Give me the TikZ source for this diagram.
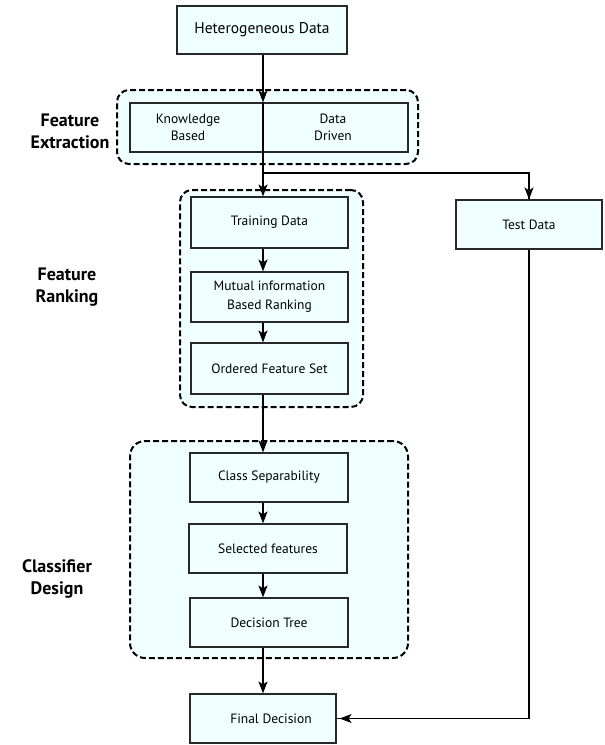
\documentclass[tikz,border=0pt]{standalone}
\usepackage{fontspec}
\setmainfont{PT Sans}
\usetikzlibrary{arrows.meta}
\definecolor{boxfill}{RGB}{240,255,255}
\definecolor{boxline}{RGB}{40,40,40}
\tikzset{
  stepbox/.style={draw=boxline, line width=1.2pt, fill=boxfill, inner sep=0pt, align=center, font=\fontsize{13.5}{19}\selectfont},
  group/.style={draw=black, line width=2pt, dash pattern=on 6pt off 3pt, fill=boxfill, rounded corners=12pt},
  arr/.style={draw=black, line width=1.5pt, -{Stealth[length=12pt,width=9pt,inset=3pt]}},
  plain/.style={draw=black, line width=1.2pt},
  lbl/.style={font=\bfseries\fontsize{18}{22}\selectfont, align=center},
}
\begin{document}
\begin{tikzpicture}[x=1pt,y=-1pt]
\useasboundingbox (0,0) rectangle (605,745);
% groups
\node[group, minimum width=301pt, minimum height=74pt] (g1) at (267.5,127) {};
\node[group, minimum width=183pt, minimum height=217pt] (g2) at (271.5,298.5) {};
\node[group, minimum width=278pt, minimum height=217pt, rounded corners=15pt] (g3) at (269,549.5) {};
% boxes
\node[stepbox, minimum width=170pt, minimum height=48pt, font=\fontsize{15.5}{19}\selectfont] (het) at (262,30) {Heterogeneous Data};
\node[stepbox, minimum width=278pt, minimum height=49pt] (fe) at (269,127.5) {};
\node[align=center, font=\fontsize{13.5}{17}\selectfont] (kb) at (188,127) {Knowledge\\Based};
\node[align=center, font=\fontsize{13.5}{17}\selectfont] (dd) at (333,127) {Data\\Driven};
\node[stepbox, minimum width=157pt, minimum height=51pt] (train) at (269.5,222.5) {Training Data};
\node[stepbox, minimum width=157pt, minimum height=50pt, font=\fontsize{13.5}{19}\selectfont] (mi) at (269.5,297) {Mutual information\\Based Ranking};
\node[stepbox, minimum width=157pt, minimum height=51pt] (ofs) at (269.5,368.5) {Ordered Feature Set};
\node[stepbox, minimum width=146pt, minimum height=49pt] (test) at (529,224.5) {Test Data};
\node[stepbox, minimum width=158pt, minimum height=49pt] (cls) at (269,477.5) {Class Separability};
\node[stepbox, minimum width=158pt, minimum height=49pt] (sel) at (268,548.5) {Selected features};
\node[stepbox, minimum width=158pt, minimum height=49pt] (dt) at (269,622.5) {Decision Tree};
\node[stepbox, minimum width=146pt, minimum height=49pt] (fin) at (263,718.5) {\hspace*{16pt}Final Decision};
% labels
\node[lbl] (l1) at (70,131) {Feature\\Extraction};
\node[lbl] (l2) at (67,287) {Feature\\Ranking};
\node[lbl] (l3) at (57,579) {Classifier\\Design};
% main axis
\coordinate (ax) at (263,0);
\coordinate (br) at (263,173);
\draw[arr] (het.south -| ax) -- (fe.north -| ax);
\draw[arr] (fe.north -| ax) -- (train.north -| ax);
\draw[plain] (br) -| (test.north);
\draw[arr] (br -| test.north) -- (test.north);
\draw[arr] (train.south -| ax) -- (mi.north -| ax);
\draw[arr] (mi.south -| ax) -- (ofs.north -| ax);
\draw[arr] (ofs.south -| ax) -- (cls.north -| ax);
\draw[arr] (cls.south -| ax) -- (sel.north -| ax);
\draw[arr] (sel.south -| ax) -- (dt.north -| ax);
\draw[arr] (dt.south -| ax) -- (fin.north -| ax);
\draw[plain] (test.south) |- (fin.east);
\draw[arr, line width=1.2pt] ([xshift=12pt]fin.east) -- ([xshift=3pt]fin.east);
\end{tikzpicture}
\end{document}
